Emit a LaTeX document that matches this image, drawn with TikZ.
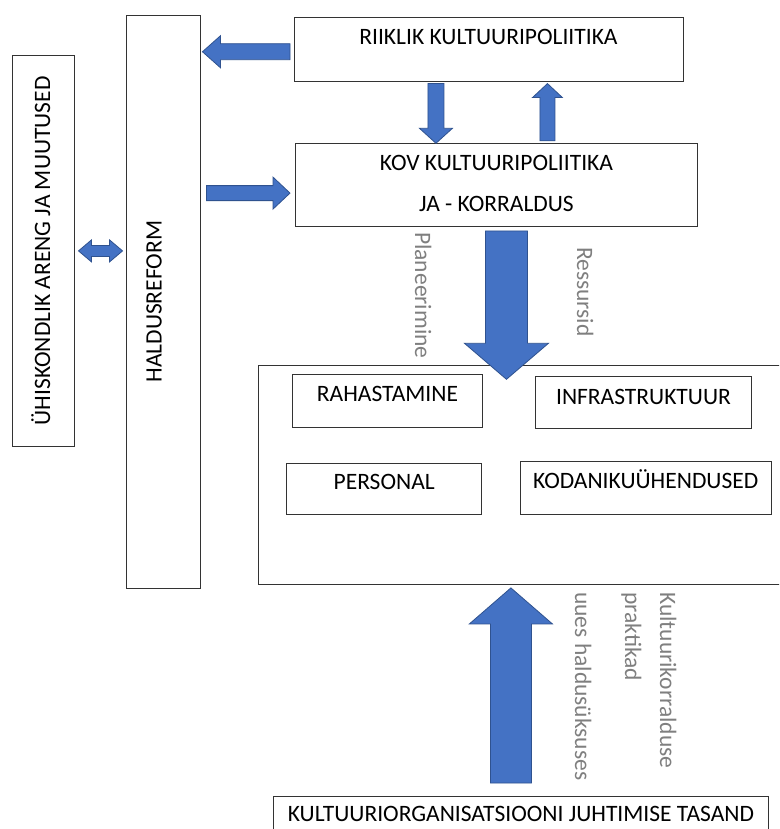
\documentclass[tikz,border=0pt]{standalone}
\usepackage{fontspec}
\setmainfont{Carlito}
\usepackage{tikz}
\usetikzlibrary{calc, positioning}
\definecolor{kul-blue}{HTML}{4472C4}
\definecolor{kul-edge}{HTML}{2F528F}
\definecolor{kul-grey}{HTML}{7F7F7F}
\definecolor{kul-line}{HTML}{333333}

% tail, tip, half shaft, half head, head length
\newcommand{\blockarrow}[5]{%
  \coordinate (ba-base) at ($(#2)!#5!(#1)$);
  \filldraw[flow] ($(#1)!#3!90:(#2)$) -- ($(ba-base)!#3!90:(#2)$)
    -- ($(ba-base)!#4!90:(#2)$) -- (#2) -- ($(ba-base)!#4!-90:(#2)$)
    -- ($(ba-base)!#3!-90:(#2)$) -- ($(#1)!#3!-90:(#2)$) -- cycle;
}
\newcommand{\twinarrow}[5]{%
  \coordinate (ta-a) at ($(#1)!#5!(#2)$);
  \coordinate (ta-b) at ($(#2)!#5!(#1)$);
  \filldraw[flow] (#1) -- ($(ta-a)!#4!90:(#2)$) -- ($(ta-a)!#3!90:(#2)$)
    -- ($(ta-b)!#3!-90:(#1)$) -- ($(ta-b)!#4!-90:(#1)$) -- (#2)
    -- ($(ta-b)!#4!90:(#1)$) -- ($(ta-b)!#3!90:(#1)$)
    -- ($(ta-a)!#3!-90:(#2)$) -- ($(ta-a)!#4!-90:(#2)$) -- cycle;
}

\begin{document}
\begin{tikzpicture}[x=1pt, y=-1pt, line join=miter,
  tbox/.style={draw=kul-line, line width=0.9pt, inner sep=0pt,
    font=\fontsize{23.5}{28.5}\selectfont},
  side/.style={tbox, rotate=90},
  flow/.style={fill=kul-blue, draw=kul-edge, line width=0.8pt},
  note/.style={text=kul-grey, inner sep=0pt, rotate=-90,
    font=\fontsize{23.5}{35}\selectfont}]
  \clip (0,0) rectangle (779,829);
  \fill[white] (0,0) rectangle (779,829);

  \node[side, minimum width=391.7pt, text height=37.7pt, text depth=24pt]
    (yhis) at (43.2,250.9) {ÜHISKONDLIK ARENG JA MUUTUSED};
  \node[side, minimum width=573.3pt, text height=35.7pt, text depth=38.3pt]
    (reform) at (163,301.7) {HALDUSREFORM};

  \node[tbox, anchor=north west, minimum width=389pt, text height=26.7pt,
    text depth=36.7pt] (riik) at (293.5,17.3) {RIIKLIK KULTUURIPOLIITIKA};
  \node[tbox, anchor=north west, minimum width=402pt, text height=67.4pt,
    text depth=15.3pt, align=center, font=\fontsize{23.5}{40.7}\selectfont]
    (kov) at (295,143.3) {KOV KULTUURIPOLIITIKA\\JA - KORRALDUS};

  \node[tbox, anchor=north west, minimum width=540pt, minimum height=219pt]
    (frame) at (258.4,365) {};
  \node[tbox, anchor=north west, minimum width=190pt, text height=27.5pt,
    text depth=25.8pt] (rah) at (292,373.5) {RAHASTAMINE};
  \node[tbox, anchor=north west, minimum width=216pt, text height=27.7pt,
    text depth=23.6pt] (infra) at (535,376.2) {INFRASTRUKTUUR};
  \node[tbox, anchor=north west, minimum width=194.7pt, text height=26.3pt,
    text depth=25pt] (pers) at (286.4,462.9) {PERSONAL};
  \node[tbox, anchor=north west, minimum width=250.7pt, text height=27.7pt,
    text depth=26pt] (kodan) at (519.9,460.5) {KODANIKUÜHENDUSED};

  \node[tbox, anchor=north west, minimum width=495.5pt, text height=25pt,
    text depth=30pt] (kultorg) at (272.7,796)
    {KULTUURIORGANISATSIOONI JUHTIMISE TASAND};

  \node[note, anchor=base west] (plan) at (415,232) {Planeerimine};
  \node[note, anchor=base west] (ress) at (577,247) {Ressursid};
  \node[note, anchor=base west] (uues) at (575,592) {uues haldusüksuses};
  \node[note, anchor=base west, align=left] (prakt) at (625,592)
    {Kultuurikorralduse\\praktikad};

  \coordinate (riik-out) at ($(riik.west)+(-3.5,2.3)$);
  \coordinate (reform-in) at ($(reform.south |- riik-out)+(2,0)$);
  \coordinate (kov-in) at ($(kov.west)+(-5,8)$);
  \coordinate (reform-out) at ($(reform.south |- kov-in)+(6,0)$);
  \coordinate (riik-down) at ($(riik.south)+(-52.5,2)$);
  \coordinate (kov-top) at ($(riik-down |- kov.north)$);
  \coordinate (riik-up) at ($(riik.south)+(59,2)$);
  \coordinate (kov-up) at ($(riik-up |- kov.north)+(0,-2.5)$);
  \coordinate (kov-down) at ($(kov.south)+(10,4)$);
  \coordinate (frame-in) at ($(kov-down |- frame.north)+(0,14.3)$);
  \coordinate (kultorg-up) at ($(kultorg.north)+(-10,-13)$);
  \coordinate (frame-up) at ($(kultorg-up |- frame.south)+(0,3)$);
  \coordinate (yhis-r) at ($(yhis.south)+(4,0)$);
  \coordinate (reform-l) at ($(reform.north |- yhis-r)+(-3,0)$);

  \blockarrow{riik-out}{reform-in}{8pt}{16pt}{18pt}
  \blockarrow{reform-out}{kov-in}{7.5pt}{16pt}{17pt}
  \blockarrow{riik-down}{kov-top}{8pt}{16.5pt}{15pt}
  \blockarrow{kov-up}{riik-up}{7.5pt}{15pt}{14pt}
  \blockarrow{kov-down}{frame-in}{21pt}{42pt}{36pt}
  \blockarrow{kultorg-up}{frame-up}{20.5pt}{41.5pt}{36pt}
  \twinarrow{yhis-r}{reform-l}{5.5pt}{11pt}{13pt}
\end{tikzpicture}
\end{document}
